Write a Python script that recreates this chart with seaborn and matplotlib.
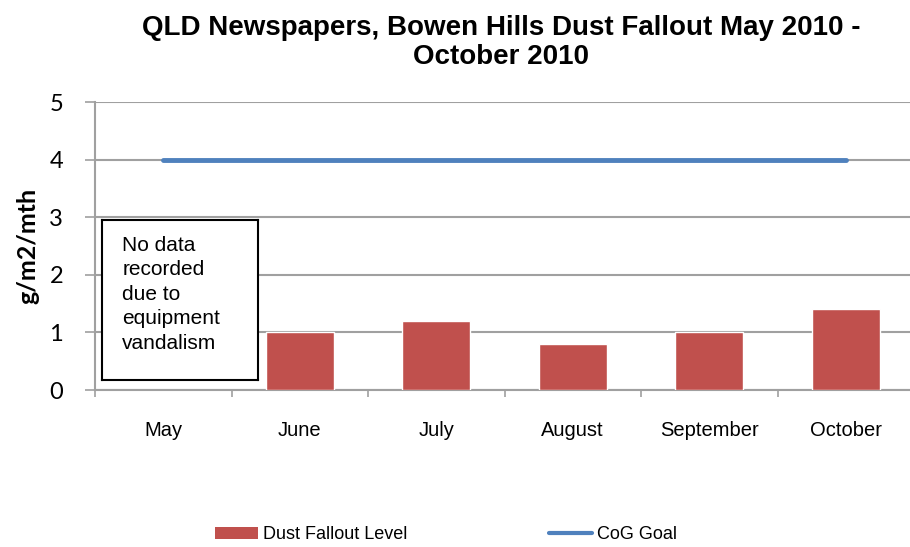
#!/usr/bin/env python3
"""
QLD Newspapers, Bowen Hills dust fallout chart
"""

import numpy as np
import pandas as pd
import matplotlib
matplotlib.use('Agg')
import matplotlib.pyplot as plt
import seaborn as sns
from matplotlib.patches import Patch
from matplotlib.lines import Line2D

# Data
months = ['May', 'June', 'July', 'August', 'September', 'October']
dust_fallout = [np.nan, 1.0, 1.2, 0.8, 1.0, 1.4]
cog_goal = [4, 4, 4, 4, 4, 4]
y_ticks = [0, 1, 2, 3, 4, 5]

BAR_COLOR = '#c0504d'
LINE_COLOR = '#4f81bd'
GRID_COLOR = '#a0a0a0'


def make_chart():
    sns.set_theme(style='white')
    plt.rcParams['font.family'] = ['Liberation Sans', 'DejaVu Sans']
    plt.rcParams['text.color'] = 'black'
    plt.rcParams['axes.labelcolor'] = 'black'

    fig = plt.figure(figsize=(9.1, 5.47), dpi=100)
    ax = fig.add_axes([0.1044, 0.287, 0.9, 0.5265])

    df = pd.DataFrame({'Month': months, 'Dust': dust_fallout})
    sns.barplot(data=df, x='Month', y='Dust', color=BAR_COLOR, saturation=1,
                width=0.5, ax=ax, zorder=3)
    sns.lineplot(x=np.arange(len(months)), y=cog_goal, color=LINE_COLOR,
                 linewidth=3.5, ax=ax, zorder=4, solid_capstyle='round')

    ax.set_xlim(-0.5, len(months) - 0.5)
    ax.set_ylim(0, 5)
    ax.set_yticks(y_ticks)
    ax.set_yticklabels([str(t) for t in y_ticks], fontsize=17, family='Lato')
    ax.yaxis.grid(True, color=GRID_COLOR, linewidth=1.5, zorder=0)
    ax.set_axisbelow(True)

    # category ticks sit between months
    ax.set_xticks(np.arange(len(months)))
    ax.set_xticklabels(months, fontsize=14.5)
    ax.set_xticks(np.arange(-0.5, len(months)), minor=True)
    ax.tick_params(axis='x', which='major', length=0, pad=22,
                   labelcolor='black')
    ax.tick_params(axis='x', which='minor', length=5, width=1.2,
                   color=GRID_COLOR, direction='out', bottom=True)
    ax.tick_params(axis='y', length=7, width=1.2, color=GRID_COLOR,
                   direction='out', left=True, pad=16, labelcolor='black')

    for side in ['top', 'right']:
        ax.spines[side].set_visible(False)
    for side in ['left', 'bottom']:
        ax.spines[side].set_color(GRID_COLOR)
        ax.spines[side].set_linewidth(1.5)

    ax.set_xlabel('')
    ax.set_ylabel('g/m2/mth', fontsize=18, fontweight='bold', family='Lato',
                  labelpad=8)
    ax.yaxis.set_label_coords(-0.068, 0.5)

    fig.suptitle('QLD Newspapers, Bowen Hills Dust Fallout May 2010 -\nOctober 2010',
                 fontsize=20, fontweight='bold', y=0.972, x=0.551,
                 linespacing=1.15)

    # note box for May
    box_ax = fig.add_axes([102 / 910, 1 - 380 / 547, 156 / 910, 160 / 547])
    box_ax.set_xticks([])
    box_ax.set_yticks([])
    box_ax.set_facecolor('white')
    for s in box_ax.spines.values():
        s.set_color('black')
        s.set_linewidth(1.5)
        s.set_visible(True)
    box_ax.text(0.13, 0.9, 'No data\nrecorded\ndue to\nequipment\nvandalism',
                fontsize=15, va='top', ha='left', linespacing=1.36,
                transform=box_ax.transAxes)

    handles = [Patch(facecolor=BAR_COLOR, edgecolor='none'),
               Line2D([0], [0], color=LINE_COLOR, linewidth=3)]
    fig.legend(handles, ['Dust Fallout Level', 'CoG Goal'], loc='center',
               bbox_to_anchor=(0.49, 0.022), ncol=2, frameon=False,
               fontsize=13, columnspacing=7.8, handlelength=2.4,
               handletextpad=0.3)

    fig.savefig('out.png', dpi=100)
    plt.close(fig)


if __name__ == '__main__':
    make_chart()
